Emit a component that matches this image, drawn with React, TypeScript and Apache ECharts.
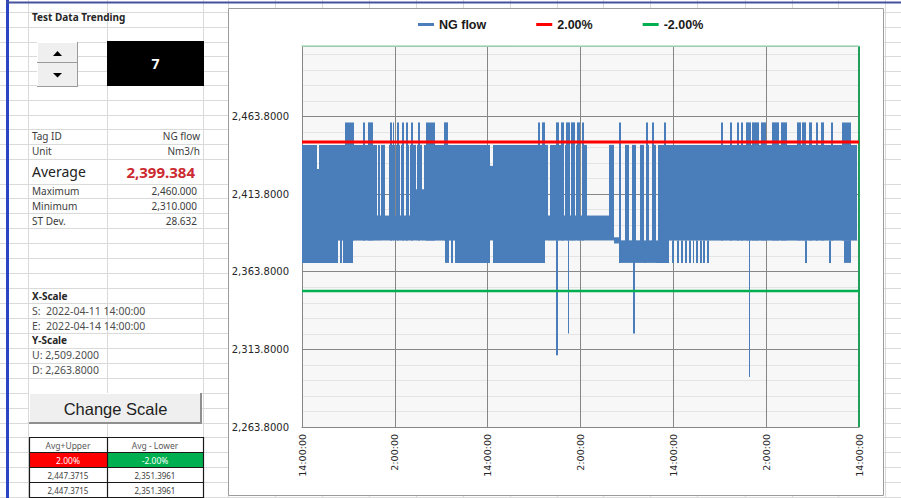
import { useEffect, useRef } from "react";
import * as echarts from "echarts";

// ---- Trend window -------------------------------------------------------
const xScaleStart = "2022-04-11 14:00:00";
const xScaleEnd = "2022-04-14 14:00:00";
const windowHours = 72;
const tickStepHours = 12;
const startClockHour = 14;

const yScaleUpper = 2509.2;
const yScaleLower = 2263.8;
const yStep = 50;
const yMinorStep = 10;

const seriesNames = ["NG flow", "2.00%", "-2.00%"];
const upperLimit = 2447.3715;
const lowerLimit = 2351.3961;

// ---- NG flow (Nm3/h), min/max envelope per time slice -------------------
const flowMax = 2460;
const bandFloor = 2369.5;
const bandShelf = 2384;

// [startHour, endHour, low, high]
const flowBands: number[][] = [
  [0, 2.0, 2369.5, 2445.5],
  [2.0, 2.19, 2369.5, 2430],
  [2.19, 4.71, 2369.5, 2445.5],
  [4.71, 4.9, 2384, 2445.5],
  [4.9, 5.16, 2369.5, 2445.5],
  [5.16, 5.35, 2384, 2445.5],
  [5.35, 6.58, 2369.5, 2445.5],
  [6.58, 9.68, 2384, 2445.5],
  [9.68, 9.87, 2384, 2400],
  [9.87, 10.06, 2384, 2445.5],
  [10.06, 10.26, 2384, 2400],
  [10.26, 10.71, 2384, 2445.5],
  [10.71, 11.23, 2384, 2400],
  [11.23, 12.0, 2384, 2445.5],
  [12.0, 12.19, 2384, 2400],
  [12.19, 12.65, 2384, 2445.5],
  [12.65, 12.84, 2384, 2400],
  [12.84, 13.23, 2384, 2445.5],
  [13.23, 13.42, 2384, 2400],
  [13.42, 13.81, 2384, 2445.5],
  [13.81, 14.0, 2384, 2400],
  [14.0, 14.71, 2384, 2445.5],
  [14.71, 14.9, 2384, 2417],
  [14.9, 15.55, 2384, 2445.5],
  [15.55, 15.74, 2384, 2417],
  [15.74, 18.45, 2384, 2445.5],
  [18.45, 19.03, 2369.5, 2445.5],
  [19.03, 19.23, 2384, 2445.5],
  [19.23, 19.55, 2369.5, 2445.5],
  [19.55, 19.74, 2384, 2445.5],
  [19.74, 24.26, 2369.5, 2445.5],
  [24.26, 24.65, 2384, 2432],
  [24.65, 31.35, 2369.5, 2445.5],
  [31.35, 31.81, 2384, 2445.5],
  [31.81, 32.0, 2384, 2400],
  [32.0, 33.87, 2384, 2445.5],
  [33.87, 34.06, 2384, 2400],
  [34.06, 34.58, 2384, 2445.5],
  [34.58, 34.77, 2384, 2400],
  [34.77, 35.29, 2384, 2445.5],
  [35.29, 35.48, 2384, 2400],
  [35.48, 35.94, 2384, 2445.5],
  [35.94, 36.13, 2384, 2400],
  [36.13, 36.9, 2384, 2445.5],
  [36.9, 39.74, 2384, 2400],
  [39.74, 40.39, 2384, 2445.5],
  [40.39, 40.97, 2382, 2386],
  [40.97, 41.23, 2369.5, 2445.5],
  [41.23, 41.81, 2369.5, 2384],
  [41.81, 42.32, 2369.5, 2445.5],
  [42.32, 42.71, 2369.5, 2384],
  [42.71, 43.23, 2369.5, 2445.5],
  [43.23, 43.74, 2369.5, 2384],
  [43.74, 44.26, 2369.5, 2445.5],
  [44.26, 44.45, 2369.5, 2384],
  [44.45, 44.9, 2369.5, 2445.5],
  [44.9, 45.23, 2369.5, 2384],
  [45.23, 45.81, 2369.5, 2445.5],
  [45.81, 46.06, 2369.5, 2384],
  [46.06, 47.48, 2369.5, 2445.5],
  [47.48, 71.8, 2384, 2445.5],
];

// short excursions up to the maximum: [startHour, endHour]
const flowPeaks: number[][] = [
  [5.55, 6.71], [7.87, 8.19], [8.52, 9.16], [11.35, 11.61], [11.74, 11.94],
  [12.32, 12.58], [12.9, 13.16], [13.48, 13.74], [14.13, 14.32], [14.97, 15.23],
  [16.06, 17.16], [18.32, 18.84], [30.45, 30.77], [31.03, 31.35], [32.84, 33.16],
  [33.48, 33.81], [34.19, 34.58], [34.77, 35.23], [35.55, 35.91], [36.15, 36.45],
  [40.94, 41.2], [44.48, 44.74], [45.25, 45.51], [46.84, 47.1], [54.15, 54.41],
  [55.32, 55.57], [56.17, 56.43], [56.74, 57.03], [57.38, 58.03], [58.23, 59.1],
  [59.32, 59.96], [60.81, 61.68], [61.9, 62.75], [64.04, 64.48], [64.68, 65.12],
  [65.55, 65.97], [66.41, 66.75], [67.06, 67.48], [68.35, 68.65], [69.85, 70.93],
];

// slices reaching the band floor while the rest sits on the shelf: [startHour, endHour]
const flowDips: number[][] = [
  [47.87, 48.06], [48.52, 48.71], [49.03, 49.23], [49.55, 49.74], [50.06, 50.26],
  [50.52, 50.71], [50.97, 51.16], [51.48, 51.68], [51.87, 52.06], [52.39, 52.58],
  [65.03, 65.29], [68.13, 68.39], [70.06, 70.97],
];

// deep drops: [startHour, endHour, low]
const flowDrops: number[][] = [
  [32.84, 33.03, 2310],
  [34.32, 34.52, 2324],
  [42.84, 43.03, 2324],
  [57.74, 57.94, 2296],
];

// ---- Side panel --------------------------------------------------------
const panelTitle = "Test Data Trending";
const spinnerValue = "7";
const statLabels = ["Tag ID", "Unit", "Average", "Maximum", "Minimum", "ST Dev."];
const statValues = ["NG flow", "Nm3/h", "2,399.384", "2,460.000", "2,310.000", "28.632"];
const yScaleTexts = ["U: 2,509.2000", "D: 2,263.8000"];
const limitHeaders = ["Avg+Upper", "Avg - Lower"];
const limitPercents = ["2.00%", "-2.00%"];
const limitValues = ["2,447.3715", "2,351.3961"];

const FLOW_COLOR = "#4a7ebb";
const UPPER_COLOR = "#ff0000";
const LOWER_COLOR = "#00b050";
const SHEET_LINE = "#dadada";

const fmt4 = (v: number) =>
  v.toLocaleString("en-US", { minimumFractionDigits: 4, maximumFractionDigits: 4 });

function line(x1: number, y1: number, x2: number, y2: number, stroke: string, lineWidth = 1, z = 0) {
  return { type: "line", z, silent: true, shape: { x1, y1, x2, y2 }, style: { stroke, lineWidth } };
}
function box(x: number, y: number, width: number, height: number, fill: string, z = 1, stroke?: string) {
  return {
    type: "rect", z, silent: true,
    shape: { x, y, width, height },
    style: stroke ? { fill, stroke, lineWidth: 1 } : { fill },
  };
}
function label(x: number, y: number, text: string, font: string, fill: string, align = "left") {
  return {
    type: "text", z: 2, silent: true, x, y,
    style: { text, font, fill, align, verticalAlign: "middle", textAlign: align, textVerticalAlign: "middle" },
  };
}

function sheetGraphics() {
  const els: any[] = [];
  const rows = [12, 27, 42, 56, 71, 85, 100, 115, 129, 144, 159, 184, 198, 213, 228, 243, 258, 273,
    288, 303, 318, 333, 348, 363, 378, 393, 408, 423, 437, 452, 467, 482, 497];
  const cols = [28, 107, 203, 228, 275, 322, 369, 416, 463, 510, 557, 603, 650, 697, 745, 792, 838, 885];
  rows.forEach((y) => els.push(line(0, y + 0.5, 901, y + 0.5, SHEET_LINE)));
  cols.forEach((x) => els.push(line(x + 0.5, 0, x + 0.5, 498, SHEET_LINE)));
  els.push(line(7.5, 0, 7.5, 498, "#2a44c2", 3));
  els.push(line(6, 2.5, 901, 2.5, "#45529c", 2));
  // chart object frame
  els.push(box(228.5, 8.5, 655, 487, "#ffffff", 0, "#9c9c9c"));

  // title
  els.push(label(32, 17, panelTitle, 'bold 10px "Noto Sans"', "#262626"));

  // spin buttons
  els.push(box(37, 42, 40, 44, "#efefef"));
  els.push(line(37, 42.5, 77, 42.5, "#ffffff", 1, 1));
  els.push(line(37.5, 42, 37.5, 86, "#ffffff", 1, 1));
  els.push(line(37, 62.5, 77, 62.5, "#9a9a9a", 1, 1));
  els.push(line(37, 86.5, 78, 86.5, "#9a9a9a", 1, 1));
  els.push(line(77.5, 42, 77.5, 87, "#9a9a9a", 1, 1));
  els.push({ type: "polygon", z: 2, silent: true, shape: { points: [[53, 56], [62, 56], [57.5, 51]] }, style: { fill: "#000" } });
  els.push({ type: "polygon", z: 2, silent: true, shape: { points: [[53, 73], [62, 73], [57.5, 77.5]] }, style: { fill: "#000" } });

  // value display
  els.push(box(107, 41, 97, 45, "#000000"));
  els.push(label(155.5, 63.5, spinnerValue, 'bold 14px "Noto Sans"', "#ffffff", "center"));

  // statistics
  const statY = [136, 151, 171.5, 191, 205.5, 220.5];
  statLabels.forEach((t, i) => {
    const big = i === 2;
    els.push(label(32, statY[i], t, big ? '14px "Noto Sans"' : '10px "Noto Sans"', big ? "#222222" : "#3c3c3c"));
  });
  statValues.forEach((t, i) => {
    if (i === 2) {
      els.push(label(195, statY[i], t, 'bold 15px "Noto Sans"', "#cc2a30", "right"));
    } else {
      els.push(label(i < 2 ? 200 : 197, statY[i], t, '10px "Noto Sans"', "#3c3c3c", "right"));
    }
  });

  // scale block
  els.push(label(32, 296, "X-Scale", 'bold 10px "Noto Sans"', "#262626"));
  els.push(label(32, 311, "S:  " + xScaleStart, '10.5px "Noto Sans"', "#4d4d4d"));
  els.push(label(32, 325.5, "E:  " + xScaleEnd, '10.5px "Noto Sans"', "#4d4d4d"));
  els.push(label(32, 340, "Y-Scale", 'bold 10px "Noto Sans"', "#262626"));
  els.push(label(32, 355, yScaleTexts[0], '10.5px "Noto Sans"', "#4d4d4d"));
  els.push(label(32, 369.5, yScaleTexts[1], '10.5px "Noto Sans"', "#4d4d4d"));

  // button
  els.push(box(29, 393, 173, 31, "#efefef"));
  els.push(line(29, 393.5, 201, 393.5, "#ffffff", 1, 1));
  els.push(line(29.5, 393, 29.5, 423, "#ffffff", 1, 1));
  els.push(line(201, 393, 201, 424, "#8f8f8f", 2, 1));
  els.push(line(29, 423, 202, 423, "#8f8f8f", 2, 1));
  els.push(label(115.5, 408.5, "Change Scale", '16.5px "Liberation Sans"', "#1e1e1e", "center"));

  // limit table
  els.push(box(29, 437, 174, 60, "#ffffff"));
  els.push(box(29, 452, 78, 15, "#ff0000"));
  els.push(box(107, 452, 96, 15, "#00b050"));
  [437, 452, 467, 482, 497].forEach((y) => els.push(line(29, y + 0.5, 204, y + 0.5, "#1a1a1a", 1.2, 2)));
  [29, 107, 203].forEach((x) => els.push(line(x + 0.5, 437, x + 0.5, 498, "#1a1a1a", 1.2, 2)));
  const cx = [68, 155];
  limitHeaders.forEach((t, i) => els.push(label(cx[i], 445, t, '8.5px "Noto Sans"', "#595959", "center")));
  limitPercents.forEach((t, i) => els.push(label(cx[i], 460, t, '8.5px "Noto Sans"', "#ffffff", "center")));
  limitValues.forEach((t, i) => {
    els.push(label(cx[i], 475, t, '8px "Noto Sans"', "#404040", "center"));
    els.push(label(cx[i], 490, t, '8px "Noto Sans"', "#404040", "center"));
  });
  return els;
}

function buildOption() {
  const flowData = [
    ...flowBands,
    ...flowPeaks.map(([a, b]) => [a, b, bandShelf, flowMax]),
    ...flowDips.map(([a, b]) => [a, b, bandFloor, bandShelf]),
    ...flowDrops.map(([a, b, low]) => [a, b, low, bandShelf]),
  ];

  const hidden = { show: false };
  return {
    animation: false,
    backgroundColor: "#ffffff",
    graphic: { elements: sheetGraphics() },
    legend: {
      left: 418,
      top: 18,
      padding: 0,
      itemWidth: 16,
      itemHeight: 3,
      itemGap: 50,
      selectedMode: false,
      textStyle: { fontFamily: "Liberation Sans", fontWeight: "bold", fontSize: 12.5, color: "#1a1a1a" },
      data: seriesNames.map((name) => ({ name, icon: "rect" })),
    },
    grid: {
      left: 302, right: 42, top: 46, bottom: 71, z: 1,
      show: true, backgroundColor: "#f7f7f7", borderWidth: 0,
    },
    xAxis: [
      {
        type: "value", min: 0, max: windowHours, interval: tickStepHours, z: 3,
        axisLine: { show: true, lineStyle: { color: "#868686", width: 1 } },
        axisTick: hidden,
        axisLabel: {
          rotate: 90, margin: 7, fontFamily: "DejaVu Sans", fontSize: 9.5, color: "#262626",
          formatter: (v: number) => `${(startClockHour + v) % 24}:00:00`,
        },
        splitLine: { show: true, lineStyle: { color: "#868686", width: 1 } },
      },
      {
        type: "value", min: 0, max: windowHours, position: "top", z: 6,
        axisLine: { show: true, lineStyle: { color: "#a9e0c0", width: 1.5 } },
        axisTick: hidden, axisLabel: hidden, splitLine: hidden,
      },
    ],
    yAxis: [
      {
        type: "value", min: yScaleLower, max: yScaleUpper, interval: yStep, position: "left", z: 3,
        axisLine: { show: true, lineStyle: { color: "#868686", width: 1 } },
        axisTick: hidden,
        axisLabel: {
          margin: 13, fontFamily: "DejaVu Sans", fontSize: 10, color: "#262626",
          showMaxLabel: false, formatter: (v: number) => fmt4(v),
        },
        splitLine: { show: true, lineStyle: { color: "#868686", width: 1 } },
      },
      {
        // minor gridlines every 10 units
        type: "value", min: yScaleLower, max: yScaleUpper, interval: yMinorStep, position: "right", z: 2,
        axisLine: hidden, axisTick: hidden, axisLabel: hidden,
        splitLine: { show: true, lineStyle: { color: "#e4e4e4", width: 1 } },
      },
    ],
    series: [
      {
        name: seriesNames[0],
        type: "custom",
        z: 4,
        color: FLOW_COLOR,
        itemStyle: { color: FLOW_COLOR },
        silent: true,
        clip: true,
        encode: { x: [0, 1], y: [2, 3] },
        data: flowData,
        renderItem: (_p: any, api: any) => {
          const p0 = api.coord([api.value(0), api.value(3)]);
          const p1 = api.coord([api.value(1), api.value(2)]);
          const x0 = Math.round(p0[0]);
          let x1 = Math.round(p1[0]);
          if (x1 - x0 < 1) x1 = x0 + 1;
          return {
            type: "rect",
            shape: { x: x0, y: p0[1], width: x1 - x0, height: p1[1] - p0[1] },
            style: { fill: FLOW_COLOR },
          };
        },
      },
      {
        name: seriesNames[1],
        type: "line",
        z: 5,
        color: UPPER_COLOR,
        itemStyle: { color: UPPER_COLOR },
        symbol: "none",
        silent: true,
        lineStyle: { color: UPPER_COLOR, width: 3 },
        data: [[0, upperLimit], [windowHours, upperLimit]],
      },
      {
        name: seriesNames[2],
        type: "line",
        z: 5,
        color: LOWER_COLOR,
        itemStyle: { color: LOWER_COLOR },
        symbol: "none",
        silent: true,
        lineStyle: { color: LOWER_COLOR, width: 2.3 },
        data: [[0, lowerLimit], [windowHours, lowerLimit]],
        markLine: {
          silent: true,
          symbol: "none",
          label: { show: false },
          lineStyle: { color: "#1f9e5c", width: 2, type: "solid" },
          data: [{ xAxis: windowHours }],
        },
      },
    ],
  };
}

export default function App() {
  const ref = useRef<HTMLDivElement>(null);
  useEffect(() => {
    if (!ref.current) return;
    const chart = echarts.init(ref.current, undefined, { renderer: "svg" });
    chart.setOption(buildOption() as any);
    return () => chart.dispose();
  }, []);
  return (
    <div
      ref={ref}
      style={{ position: "absolute", left: 0, top: 0, width: 901, height: 498 }}
    />
  );
}
